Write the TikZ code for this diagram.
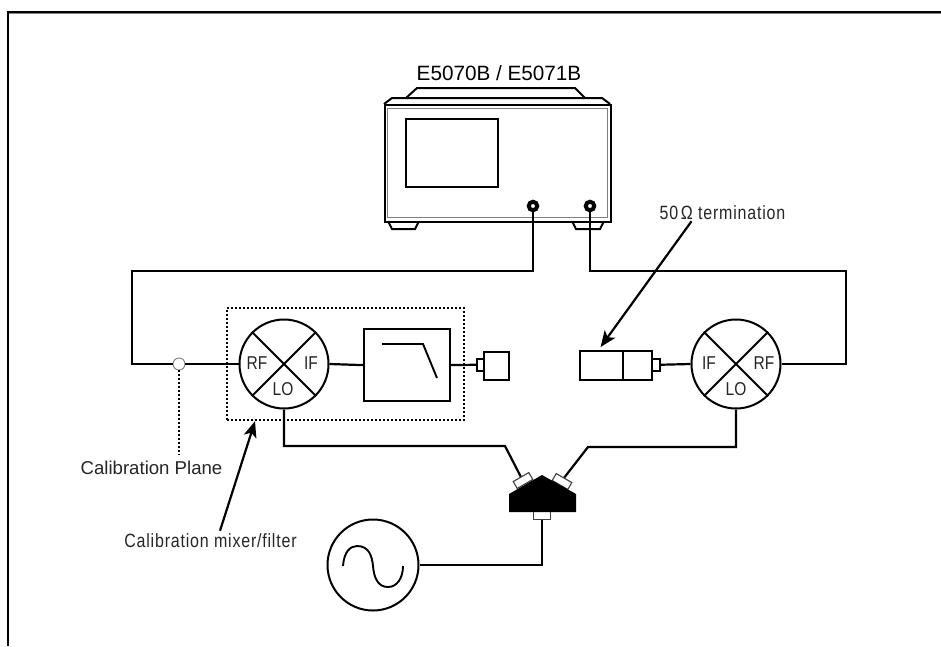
\documentclass[tikz,border=0pt]{standalone}
\usepackage{fontspec}
\usepackage{graphicx}
\setmainfont{Liberation Sans}
\newfontfamily\spacedfont[LetterSpace=5]{Liberation Sans}
\newcommand{\tallA}[1]{\scalebox{1}[1.2]{#1}}
\usetikzlibrary{arrows.meta,calc}
\tikzset{
  wire/.style={line width=2.2pt,black},
  thin outline/.style={line width=1.9pt,black},
  mixer/.style={circle,draw,line width=2pt,minimum size=89pt,inner sep=0pt},
  mixlabel/.style={inner sep=0pt,font=\fontsize{15.5}{15.5}\selectfont,text=black!85},
  boxnode/.style={draw,line width=2.2pt,inner sep=0pt,anchor=north west},
  smallport/.style={draw,line width=1.5pt,fill=white,inner sep=0pt,anchor=north west},
  splitport/.style={draw=black!75,line width=1.1pt,fill=white,inner sep=0pt},
  dotwire/.style={line width=2.2pt,dash pattern=on 2pt off 2pt},
  arr/.style={line width=2.2pt,-{Stealth[length=16pt,width=13pt,inset=4pt]}},
  lbl/.style={inner sep=0pt,text=black!85},
  portnode/.style={circle,draw,line width=4pt,fill=white,minimum size=8.5pt,inner sep=0pt}
}
\begin{document}
\begin{tikzpicture}[x=1pt,y=-1pt]
\useasboundingbox (0,0) rectangle (941,646);
\fill[white] (0,0) rectangle (941,646);
% frame
\draw[line width=1.5pt,gray] (8,13.5) -- (941,13.5);
\draw[line width=1.8pt] (8,646) -- (8,12) -- (941,12);
% analyzer
\node[lbl,font=\fontsize{20.7}{20.7}\selectfont,text=black] (title) at (499,73) {E5070B / E5071B};
\draw[line width=2pt] (406,98) -- (417,88) -- (575,88) -- (585,98);
\draw[line width=2pt] (384,104) -- (392,98) -- (602,98) -- (610,104);
\draw[line width=2pt] (388,221) -- (392,229) -- (415,229) -- (419,221);
\draw[line width=2pt] (572,221) -- (576,229) -- (600,229) -- (604,221);
\node[boxnode,minimum width=226pt,minimum height=117pt,fill=white] (inst) at (384,104) {};
\draw[line width=1pt,gray] (387.5,108) rectangle (607,217);
\node[boxnode,minimum width=92pt,minimum height=68pt,line width=1.8pt] (screen) at (405,118) {};
\node[portnode] (p1) at (533,206) {};
\node[portnode] (p2) at (590,206) {};
% mixers
\node[mixer] (m1) at (284,364) {};
\draw[thin outline] (m1.45) -- (m1.225) (m1.135) -- (m1.315);
\node[mixlabel] (m1rf) at (257,363) {\tallA{RF}};
\node[mixlabel] (m1if) at (311,363) {\tallA{IF}};
\node[mixlabel] (m1lo) at (283,389) {\tallA{LO}};
\node[mixer] (m2) at (736,364) {};
\draw[thin outline] (m2.45) -- (m2.225) (m2.135) -- (m2.315);
\node[mixlabel] (m2if) at (709,363) {\tallA{IF}};
\node[mixlabel] (m2rf) at (764,363) {\tallA{RF}};
\node[mixlabel] (m2lo) at (736,389) {\tallA{LO}};
% dotted enclosure
\node[draw,dotwire,inner sep=0pt,anchor=north west,minimum width=237pt,minimum height=112pt] (cal) at (226,307) {};
% filter
\node[boxnode,minimum width=86pt,minimum height=72pt] (filt) at (363,328) {};
\draw[thin outline] (382,344) -- (423,344) -- (437,378);
% connector after filter
\node[smallport,minimum width=7pt,minimum height=12pt] (c1) at (476,358) {};
\node[boxnode,minimum width=25pt,minimum height=28pt] (load1) at (483,351) {};
% termination
\node[boxnode,minimum width=43pt,minimum height=29pt] (ta) at (579,350) {};
\node[boxnode,minimum width=29pt,minimum height=29pt] (tb) at (622,350) {};
\node[smallport,minimum width=8pt,minimum height=12pt] (c2) at (651,358) {};
% calibration plane marker
\node[circle,draw=gray,line width=0.9pt,fill=white,minimum size=12pt,inner sep=0pt] (cp) at (179,364) {};
% splitter
\node[splitport,minimum width=18pt,minimum height=8pt,rotate=30] (sl) at (523,480.5) {};
\node[splitport,minimum width=18pt,minimum height=8pt,rotate=-30] (sr) at (562,481.5) {};
\node[splitport,minimum width=17pt,minimum height=8pt,anchor=north] (sb) at (542,511) {};
\fill[black] (542,475) -- (576,494) -- (576,512) -- (509,512) -- (509,494) -- cycle;
% source
\node[circle,draw,line width=2pt,minimum size=91pt,inner sep=0pt] (src) at (373,565) {};
\draw[thin outline] (343,566) .. controls (344,552) and (350,546) .. (357,546)
  .. controls (369,546) and (372,556) .. (373,566)
  .. controls (374,578) and (378,587) .. (388,587)
  .. controls (397,587) and (403,578) .. (403,566);
% wires
\draw[wire] (p1.south) -- (533,271) -- (132,271) -- (132,364) -- (cp.west);
\draw[wire] (cp.east) -- (m1.west);
\draw[wire] (m1.east) -- (filt.west);
\draw[wire] (filt.east) -- (c1.west);
\draw[wire] (c2.east) -- (m2.west);
\draw[wire] (p2.south) -- (590,271) -- (846,271) -- (846,364) -- (m2.east);
\draw[wire] (m1.south) -- (284,446) -- (505,446) -- (sl.north);
\draw[wire] (m2.south) -- (736,447) -- (588,447) -- (sr.north);
\draw[wire] (sb.south) -- (542,565) -- (src.east);
% labels and pointers
\coordinate (cpend) at (179,455);
\draw[dotwire] (cp.south) -- (cpend);
\node[lbl,font=\fontsize{18.6}{18.6}\selectfont] (tcp) at (151.5,468) {Calibration Plane};
\node[lbl,font=\fontsize{16}{16}\selectfont\spacedfont] (tcm) at (210.5,541) {\tallA{Calibration mixer/filter}};
\node[lbl,font=\fontsize{16}{16}\selectfont\spacedfont] (tterm) at (722.5,213) {\tallA{50\,Ω termination}};
\draw[arr] ([xshift=-31pt,yshift=-1pt]tterm.south) -- ([xshift=-1pt,yshift=3pt]ta.north);
\draw[arr] ([xshift=9.5pt,yshift=3pt]tcm.north) -- ([xshift=29pt]cal.south west);
\end{tikzpicture}
\end{document}
